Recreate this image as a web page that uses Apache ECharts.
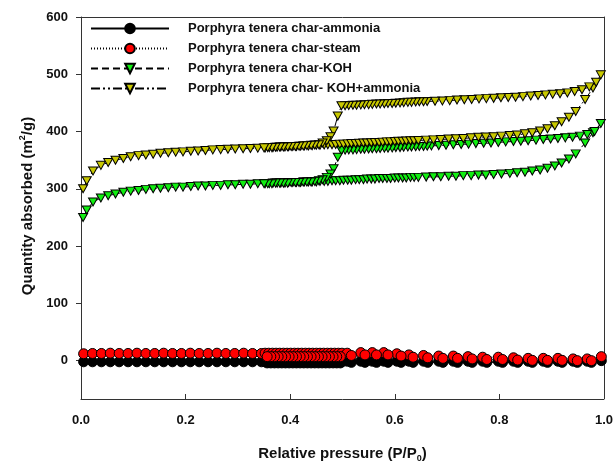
<!DOCTYPE html>
<html>
<head>
<meta charset="utf-8">
<script src="https://cdn.jsdelivr.net/npm/echarts@6/dist/echarts.min.js"></script>
<style>
html,body{margin:0;padding:0;background:#fff}
#main{width:616px;height:468px}
</style>
</head>
<body>
<div id="main"></div>
<script>
// Porphyra tenera char - N2 isotherms

var yTicks = [0, 100, 200, 300, 400, 500, 600];

// char-ammonia (black, near zero)
var ammoniaAdsP = [0.005,0.022,0.039,0.056,0.073,0.090,0.107,0.124,0.141,0.158,0.175,0.192,0.209,0.226,0.243,0.260,0.277,0.294,0.311,0.328,0.345,
	0.352,0.359,0.366,0.373,0.380,0.387,0.394,0.401,0.408,0.415,0.422,0.429,0.436,0.443,0.450,0.457,0.464,0.471,0.478,0.485,0.492,0.499,
	0.509,0.535,0.557,0.579,0.604,0.627,0.655,0.684,0.712,0.740,0.768,0.798,0.827,0.855,0.884,0.912,0.941,0.968,0.995];
var ammoniaAdsV = [-2,-2,-2,-2,-2,-2,-2,-2,-2,-2,-2,-2,-2,-2,-2,-2,-2,-2,-2,-2,-2,
	-2,-2,-2,-2,-2,-2,-2,-2,-2,-2,-2,-2,-2,-2,-2,-2,-2,-2,-2,-2,-2,-2,
	-1,-1,-1,-1,-1,-1,-1,-1,-1,-1,-1,-1,-1,-1,-1,-1,-1,-1,0];
var ammoniaDesP = [0.976,0.949,0.920,0.892,0.863,0.835,0.806,0.776,0.748,0.720,0.692,0.663,0.635,0.612,0.587,0.565,0.543,0.517,
	0.496,0.489,0.482,0.475,0.468,0.461,0.454,0.447,0.440,0.433,0.426,0.419,0.412,0.405,0.398,0.391,0.384,0.377,0.370,0.363,0.356];
var ammoniaDesV = [-3,-3,-3,-3,-3,-3,-3,-3,-3,-3,-3,-3,-3,-3,-3,-3,-3,-3,
	-4,-4,-4,-4,-4,-4,-4,-4,-4,-4,-4,-4,-4,-4,-4,-4,-4,-4,-4,-4,-4];

// char-steam (red)
var steamAdsP = [0.005,0.022,0.039,0.056,0.073,0.090,0.107,0.124,0.141,0.158,0.175,0.192,0.209,0.226,0.243,0.260,0.277,0.294,0.311,0.328,0.345,
	0.352,0.359,0.366,0.373,0.380,0.387,0.394,0.401,0.408,0.415,0.422,0.429,0.436,0.443,0.450,0.457,0.464,0.471,0.478,0.485,0.492,0.499,
	0.509,0.535,0.557,0.579,0.604,0.627,0.655,0.684,0.712,0.740,0.768,0.798,0.827,0.855,0.884,0.912,0.941,0.968,0.995];
var steamAdsV = [12,12.5,12.5,13,12.5,12.5,13,12.5,12.5,13,12.5,12.5,13,12.5,12.5,13,12.5,12.5,13,12.5,12.5,
	13,13,13,13,13,13,13,13,13,13,13,13,13,13,13,13,13,13,13,13,13,13,
	13,14,14,14,12,10,9,8,8,7,6,6,5,4,4,4,3,3,7];
var steamDesP = [0.976,0.949,0.920,0.892,0.863,0.835,0.806,0.776,0.748,0.720,0.692,0.663,0.635,0.612,0.587,0.565,0.543,0.517,
	0.496,0.489,0.482,0.475,0.468,0.461,0.454,0.447,0.440,0.433,0.426,0.419,0.412,0.405,0.398,0.391,0.384,0.377,0.370,0.363,0.356];
var steamDesV = [0,0,0.5,0.5,0.5,1,2,2,3,4,4,5,6,8,10,10,10,9,
	7,7,7,7,7,7,7,7,7,7,7,7,7,7,7,7,7,7,7,7,7];

// char-KOH (green)
var kohAdsP = [0.004,0.011,0.023,0.038,0.052,0.066,0.081,0.095,0.110,0.124,0.138,0.152,0.167,0.181,0.195,0.210,0.224,0.238,0.252,0.267,0.281,0.295,0.310,0.324,0.338,0.352,
	0.360,0.367,0.375,0.382,0.390,0.397,0.405,0.412,0.420,0.427,0.435,0.442,0.450,0.457,0.465,0.472,0.480,0.487,0.495,0.502,0.510,0.517,0.525,0.532,
	0.540,0.547,0.555,0.562,0.570,0.577,0.585,0.592,0.600,0.607,0.615,0.622,0.630,0.637,0.645,
	0.660,0.674,0.688,0.703,0.717,0.731,0.746,0.760,0.774,0.789,0.804,0.820,0.834,0.849,0.863,0.878,0.892,0.906,0.919,0.933,0.946,0.964,0.979,0.994];
var kohAdsV = [250,263,277,284,288,291,294,296,297,299,300,301,302,303,303,304,305,305,306,306,307,307,308,308,309,309,
	309,310,310,310,310,311,311,311,311,312,312,312,312,313,313,313,314,314,314,315,315,315,316,316,
	316,317,317,317,318,318,318,318,319,319,319,319,320,320,320,
	320.5,321,321,322,322,323,323,324,324,325,326,327,328,329,331,333,336,340,345,352,361,380,398,414];
var kohDesP = [0.982,0.968,0.954,0.940,0.926,0.912,0.898,0.884,0.870,0.855,0.841,0.827,0.812,0.798,0.784,0.770,0.755,0.741,0.727,0.712,0.698,0.684,0.670,
	0.662,0.655,0.647,0.640,0.632,0.625,0.617,0.610,0.602,0.595,0.587,0.580,0.572,0.565,0.557,0.550,0.542,0.535,0.527,0.520,0.512,0.505,0.498,
	0.491,0.483,0.477,0.470,0.462,0.455,0.447,0.440,0.432,0.425,0.417,0.410,0.402,0.395,0.387,0.380,0.372,0.365,0.357,0.350];
var kohDesV = [400,395,392,390,389,388,387,386,385,384,383,382.5,382,381,380,379.5,379,378,377.5,377,376,375.5,375,
	374.5,374,374,373.5,373,373,372.5,372,372,371.5,371,371,370.5,370,370,369.5,369,369,368.5,368,368,367.5,367,
	355,335,326,320,316,314,313,312,312,312,311,311,311,310,310,310,310,309,309,309];

// char- KOH+ammonia (yellow)
var kohAmAdsP = [0.004,0.011,0.023,0.038,0.052,0.066,0.081,0.095,0.110,0.124,0.138,0.152,0.167,0.181,0.195,0.210,0.224,0.238,0.252,0.267,0.281,0.295,0.310,0.324,0.338,0.352,
	0.360,0.367,0.375,0.382,0.390,0.397,0.405,0.412,0.420,0.427,0.435,0.442,0.450,0.457,0.465,0.472,0.480,0.487,0.495,0.502,0.510,0.517,0.525,0.532,
	0.540,0.547,0.555,0.562,0.570,0.577,0.585,0.592,0.600,0.607,0.615,0.622,0.630,0.637,0.645,
	0.660,0.674,0.688,0.703,0.717,0.731,0.746,0.760,0.774,0.789,0.804,0.820,0.834,0.849,0.863,0.878,0.892,0.906,0.919,0.933,0.946,0.964,0.979,0.994];
var kohAmAdsV = [300,314,331,341,346,350,353,356,358,359,360.5,362,363,364,364.5,365.5,366,367,368,368.5,369,369.5,370,370.5,371,371.5,
	372,372,372.5,373,373,373.5,374,374,374.5,375,375,375.5,376,376,376.5,377,377,377.5,378,378,378.5,379,379,379.5,
	380,380,380.5,381,381,381.5,382,382,382.5,383,383,383.5,384,384,384.5,
	385,385.5,386,387,387.5,388,389,390,390.5,391,392,393,394,396,398,401,405,410,417,425,435,456,476,499];
var kohAmDesP = [0.985,0.972,0.958,0.944,0.930,0.916,0.902,0.888,0.874,0.860,0.845,0.831,0.817,0.803,0.789,0.775,0.761,0.747,0.733,0.719,0.705,0.691,0.677,
	0.662,0.655,0.647,0.640,0.632,0.625,0.617,0.610,0.602,0.595,0.587,0.580,0.572,0.565,0.557,0.550,0.542,0.535,0.527,0.520,0.512,0.505,0.498,
	0.491,0.483,0.477,0.470,0.462,0.455,0.447,0.440,0.432,0.425,0.417,0.410,0.402,0.395,0.387,0.380,0.372,0.365,0.357,0.350];
var kohAmDesV = [486,478,473,470,467.5,466,465,464,463,462,461,460,459.5,459,458,457.5,457,456,455.5,455,454,453.5,453,
	452.5,452,452,451.5,451,451,450.5,450,449.5,449,449,448.5,448,448,447.5,447,447,446.5,446,446,445.5,445,445,
	427,401,391,384,380,377,376.5,376,375.5,375,374.5,374,374,373.5,373,373,372.5,372,372,371.5];

function pairs(p, v){
	var out = [];
	for(var i = 0; i < p.length; i++)
		out.push([p[i], v[i]]);
	return out;
}

function isotherm(adsP, adsV, desP, desV){
	return pairs(adsP, adsV).concat(pairs(desP, desV));
}

var font = 'Liberation Sans, Arial, sans-serif';

function mkSeries(name, data, symbol, size, rotate, color, dash){
	return {
		name: name,
		type: 'line',
		data: data,
		symbol: symbol,
		symbolSize: size,
		symbolRotate: rotate,
		showAllSymbol: true,
		itemStyle: {color: color, borderColor: '#000', borderWidth: 1},
		lineStyle: {color: '#000', width: 1, type: dash},
		xAxisIndex: 0,
		yAxisIndex: 0
	};
}

var chart = echarts.init(document.getElementById('main'));

var option = {
	animation: false,
	backgroundColor: '#fff',
	grid: {left: 81, right: 10, top: 17, bottom: 65},
	legend: {
		orient: 'vertical',
		left: 85,
		top: 17,
		itemWidth: 78,
		itemHeight: 12,
		itemGap: 7,
		textStyle: {fontFamily: font, fontWeight: 'bold', fontSize: 13, color: '#111', padding: [0, 0, 0, 14]},
		data: ['Porphyra tenera char-ammonia', 'Porphyra tenera char-steam', 'Porphyra tenera char-KOH', 'Porphyra tenera char- KOH+ammonia']
	},
	xAxis: [
		{
			type: 'value', min: 0, max: 1, interval: 0.2, offset: 4,
			axisLine: {show: true, onZero: false, lineStyle: {color: '#333', width: 1}},
			axisTick: {show: true, inside: true, length: 5, lineStyle: {color: '#333'}},
			axisLabel: {formatter: function(v){ return v.toFixed(1); }, fontFamily: font, fontWeight: 'bold', fontSize: 13, color: '#111', margin: 15},
			splitLine: {show: false},
			name: 'Relative pressure (P/P{sub|0})',
			nameLocation: 'middle',
			nameGap: 45,
			nameTextStyle: {fontFamily: font, fontWeight: 'bold', fontSize: 15, color: '#111',
				rich: {sub: {fontFamily: font, fontWeight: 'bold', fontSize: 9, color: '#111', padding: [10, 0, 0, 0]}}}
		},
		{
			type: 'value', min: 0, max: 1, position: 'top',
			axisLine: {show: true, onZero: false, lineStyle: {color: '#333', width: 1}},
			axisTick: {show: false}, axisLabel: {show: false}, splitLine: {show: false}
		}
	],
	yAxis: [
		{
			type: 'value', min: -60, max: 600,
			axisLine: {show: true, onZero: false, lineStyle: {color: '#333', width: 1}},
			axisTick: {show: true, length: 5, customValues: yTicks, lineStyle: {color: '#333'}},
			axisLabel: {customValues: yTicks, fontFamily: font, fontWeight: 'bold', fontSize: 13, color: '#111', margin: 13},
			splitLine: {show: false},
			name: 'Quantity absorbed (m{sup|2}/g)',
			nameLocation: 'middle',
			nameGap: 38,
			nameTextStyle: {fontFamily: font, fontWeight: 'bold', fontSize: 15, color: '#111',
				rich: {sup: {fontFamily: font, fontWeight: 'bold', fontSize: 9, color: '#111', padding: [0, 0, 10, 0]}}}
		},
		{
			type: 'value', min: -60, max: 600, position: 'right',
			axisLine: {show: true, onZero: false, lineStyle: {color: '#333', width: 1}},
			axisTick: {show: false}, axisLabel: {show: false}, splitLine: {show: false}
		}
	],
	series: [
		mkSeries('Porphyra tenera char-ammonia', isotherm(ammoniaAdsP, ammoniaAdsV, ammoniaDesP, ammoniaDesV), 'circle', 10, 0, '#000', 'solid'),
		mkSeries('Porphyra tenera char-steam', isotherm(steamAdsP, steamAdsV, steamDesP, steamDesV), 'circle', 10, 0, '#ff0000', [1, 2]),
		mkSeries('Porphyra tenera char-KOH', isotherm(kohAdsP, kohAdsV, kohDesP, kohDesV), 'triangle', [9, 8], 180, '#11ee11', [7, 4]),
		mkSeries('Porphyra tenera char- KOH+ammonia', isotherm(kohAmAdsP, kohAmAdsV, kohAmDesP, kohAmDesV), 'triangle', [9, 8], 180, '#c8c800', [9, 3, 2, 3, 2, 3])
	]
};

chart.setOption(option);
</script>
</body>
</html>
